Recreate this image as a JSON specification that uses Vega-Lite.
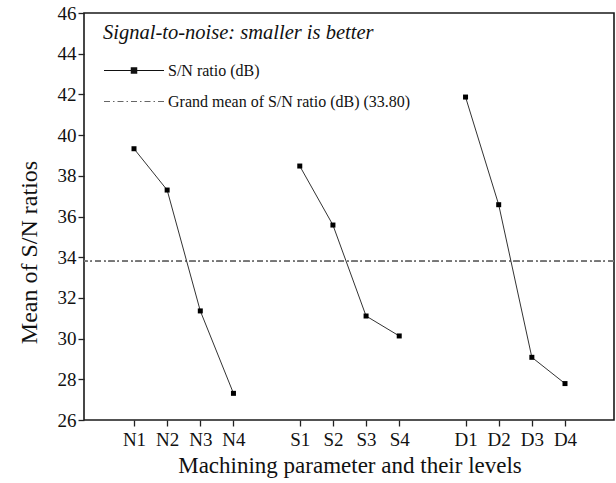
{
  "$schema": "https://vega.github.io/schema/vega-lite/v6.json",
  "width": 530,
  "height": 407,
  "autosize": {"type": "none"},
  "padding": {"left": 84, "top": 13, "right": 2, "bottom": 63},
  "background": "white",
  "config": {
    "view": {"stroke": "#1a1a1a", "strokeWidth": 1.6},
    "font": "Liberation Serif",
    "axis": {"labelFont": "Liberation Serif", "titleFont": "Liberation Serif", "labelColor": "#111", "titleColor": "#111", "grid": false, "domain": false, "tickColor": "#222", "tickWidth": 1.3, "titleFontWeight": "normal"},
    "legend": {"labelFont": "Liberation Serif", "titleFont": "Liberation Serif"}
  },
  "data": {
    "values": [
      {"factor": "N", "level": "N1", "sn": 39.33, "series": "S/N ratio (dB)"},
      {"factor": "N", "level": "N2", "sn": 37.30, "series": "S/N ratio (dB)"},
      {"factor": "N", "level": "N3", "sn": 31.36, "series": "S/N ratio (dB)"},
      {"factor": "N", "level": "N4", "sn": 27.31, "series": "S/N ratio (dB)"},
      {"factor": "S", "level": "S1", "sn": 38.48, "series": "S/N ratio (dB)"},
      {"factor": "S", "level": "S2", "sn": 35.58, "series": "S/N ratio (dB)"},
      {"factor": "S", "level": "S3", "sn": 31.11, "series": "S/N ratio (dB)"},
      {"factor": "S", "level": "S4", "sn": 30.13, "series": "S/N ratio (dB)"},
      {"factor": "D", "level": "D1", "sn": 41.87, "series": "S/N ratio (dB)"},
      {"factor": "D", "level": "D2", "sn": 36.58, "series": "S/N ratio (dB)"},
      {"factor": "D", "level": "D3", "sn": 29.08, "series": "S/N ratio (dB)"},
      {"factor": "D", "level": "D4", "sn": 27.79, "series": "S/N ratio (dB)"}
    ]
  },
  "layer": [
    {
      "mark": {"type": "rule", "color": "#777", "strokeWidth": 1.2, "strokeDash": [6, 3, 1.5, 3]},
      "encoding": {"y": {"datum": 33.8, "type": "quantitative"}}
    },
    {
      "mark": {"type": "line", "color": "#333", "strokeWidth": 1},
      "encoding": {
        "x": {"field": "level", "type": "ordinal", "scale": {"type": "point", "range": [50, 481], "padding": 0, "domain": ["N1", "N2", "N3", "N4", " ", "S1", "S2", "S3", "S4", "  ", "D1", "D2", "D3", "D4"]},
          "axis": {"values": ["N1", "N2", "N3", "N4", "S1", "S2", "S3", "S4", "D1", "D2", "D3", "D4"], "labelAngle": 0, "labelFont": "Liberation Serif", "labelFontSize": 19, "tickSize": 6, "labelPadding": 4, "title": "Machining parameter and their levels", "titleFont": "Liberation Serif", "titleFontSize": 23, "titlePadding": 5}},
        "y": {"field": "sn", "type": "quantitative", "scale": {"domain": [26, 46], "nice": false, "zero": false},
          "axis": {"orient": "left", "values": [26, 27, 28, 29, 30, 31, 32, 33, 34, 35, 36, 37, 38, 39, 40, 41, 42, 43, 44, 45, 46],
            "labelExpr": "datum.value % 2 === 0 ? datum.label : ''",
            "tickSize": {"condition": {"test": "datum.value % 2 === 0", "value": 6}, "value": 3},
            "labelFont": "Liberation Serif", "labelFontSize": 19, "labelPadding": 2, "labelOverlap": false, "labelBound": false, "labelAngle": 0,
            "title": "Mean of S/N ratios", "titleFont": "Liberation Serif", "titleFontSize": 24, "titlePadding": 16, "titleY": 239}},
        "detail": {"field": "factor"}
      }
    },
    {
      "mark": {"type": "point", "shape": "square", "filled": true, "color": "#000", "size": 25, "opacity": 1},
      "encoding": {
        "x": {"field": "level", "type": "ordinal"},
        "y": {"field": "sn", "type": "quantitative"}
      }
    },
    {
      "mark": {"type": "point", "filled": false, "opacity": 0},
      "encoding": {
        "x": {"field": "level", "type": "ordinal"},
        "y": {"field": "sn", "type": "quantitative"},
        "shape": {"field": "series", "type": "nominal",
          "scale": {"domain": ["S/N ratio (dB)", "Grand mean of S/N ratio (dB) (33.80)"],
            "range": ["M-1,0H5M1.73,-0.27H2.27V0.27H1.73ZM1.73,-0.18H2.27M1.73,-0.09H2.27M1.73,0.09H2.27M1.73,0.18H2.27", "M-1,0H-0.4M-0.1,0H0.05M0.35,0H0.95M1.25,0H1.4M1.7,0H2.3M2.6,0H2.75M3.05,0H3.65M3.95,0H4.1M4.4,0H5"]},
          "legend": {"title": "Signal-to-noise: smaller is better", "orient": "none", "legendX": 19, "legendY": 10,
            "titleFont": "Liberation Serif", "titleFontStyle": "italic", "titleFontSize": 20.5, "titleFontWeight": "normal", "titleColor": "#111", "titlePadding": 16, "titleLimit": 0,
            "labelFont": "Liberation Serif", "labelFontSize": 16, "labelColor": "#111", "labelLimit": 0, "symbolSize": 400, "symbolStrokeWidth": 1.1, "symbolStrokeColor": "#222", "symbolOpacity": 1, "rowPadding": 12, "labelOffset": 43,
            "encode": {"symbols": {"update": {"opacity": {"value": 1}, "strokeOpacity": {"value": 1}, "strokeWidth": {"value": 1.1}}}}}},
        "color": {"field": "series", "type": "nominal",
          "scale": {"domain": ["S/N ratio (dB)", "Grand mean of S/N ratio (dB) (33.80)"], "range": ["#111", "#666"]}}
      }
    }
  ]
}
